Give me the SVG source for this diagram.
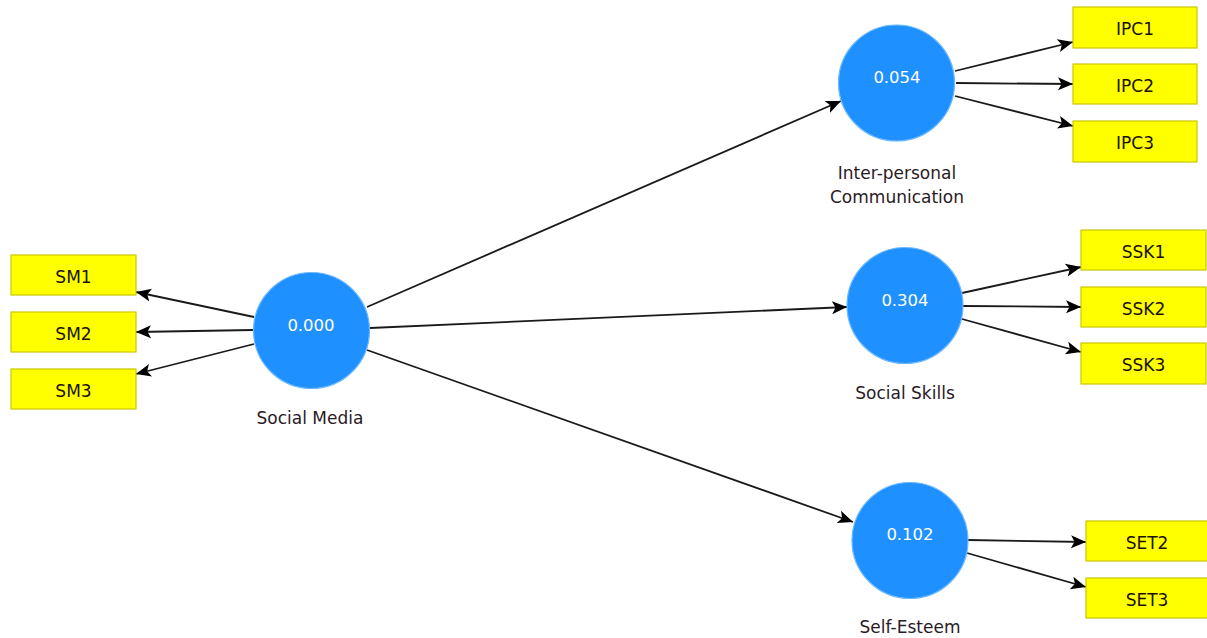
<svg xmlns="http://www.w3.org/2000/svg" width="1207" height="638" viewBox="0 0 1207 638">
  <defs>
    <marker id="arrow" markerUnits="userSpaceOnUse" markerWidth="16" markerHeight="16" viewBox="0 0 16 16" refX="15" refY="8" orient="auto">
      <path d="M0,1.5 L15,8 L0,14.5 L3.5,8 Z" fill="#000"/>
    </marker>
  </defs>
  <style>
    .lv { fill: #1e90ff; stroke: #6cb8ff; stroke-width: 1.2; }
    .lv-val { font-family: "DejaVu Sans", Verdana, sans-serif; font-size: 16.5px; fill: #ffffff; text-anchor: middle; }
    .lv-name { font-family: "DejaVu Sans", Verdana, sans-serif; font-size: 17px; fill: #2a1a26; text-anchor: middle; }
    .ind { fill: #ffff00; stroke: #c9c900; stroke-width: 1.2; }
    .ind-txt { font-family: "DejaVu Sans", Verdana, sans-serif; font-size: 17px; fill: #1a1200; text-anchor: middle; }
    .path { stroke: #1a1a1a; stroke-width: 1.8; fill: none; marker-end: url(#arrow); }
  </style>
  <rect width="1207" height="638" fill="#ffffff"/>

  <!-- connectors -->
  <g id="connectors">
    <!-- structural paths -->
    <line class="path" x1="367" y1="307" x2="841" y2="101"/>
    <line class="path" x1="370" y1="328" x2="847" y2="307"/>
    <line class="path" x1="367" y1="350" x2="853" y2="522"/>
    <!-- Social Media indicators -->
    <line class="path" x1="254" y1="317" x2="136" y2="292"/>
    <line class="path" x1="253" y1="330" x2="136" y2="332"/>
    <line class="path" x1="254" y1="344" x2="136" y2="374"/>
    <!-- Inter-personal Communication indicators -->
    <line class="path" x1="955" y1="71" x2="1073" y2="42"/>
    <line class="path" x1="956" y1="83" x2="1073" y2="84"/>
    <line class="path" x1="955" y1="96" x2="1073" y2="126"/>
    <!-- Social Skills indicators -->
    <line class="path" x1="962" y1="293" x2="1081" y2="267"/>
    <line class="path" x1="963" y1="306" x2="1081" y2="307"/>
    <line class="path" x1="962" y1="319" x2="1081" y2="352"/>
    <!-- Self-Esteem indicators -->
    <line class="path" x1="968" y1="540" x2="1086" y2="542"/>
    <line class="path" x1="967" y1="553" x2="1086" y2="587"/>
  </g>

  <!-- latent variables -->
  <g id="social-media">
    <circle class="lv" cx="311.5" cy="330.5" r="58"/>
    <text class="lv-val" x="311" y="331">0.000</text>
    <text class="lv-name" x="310" y="424">Social Media</text>
  </g>
  <g id="interpersonal-communication">
    <circle class="lv" cx="896.5" cy="83" r="58"/>
    <text class="lv-val" x="897" y="83">0.054</text>
    <text class="lv-name" x="897" y="179">Inter-personal</text>
    <text class="lv-name" x="897" y="203">Communication</text>
  </g>
  <g id="social-skills">
    <circle class="lv" cx="905" cy="305.5" r="58"/>
    <text class="lv-val" x="905" y="306">0.304</text>
    <text class="lv-name" x="905" y="399">Social Skills</text>
  </g>
  <g id="self-esteem">
    <circle class="lv" cx="910" cy="540.5" r="58"/>
    <text class="lv-val" x="910" y="540">0.102</text>
    <text class="lv-name" x="910" y="633">Self-Esteem</text>
  </g>

  <!-- indicators -->
  <g id="SM1"><rect class="ind" x="11" y="255" width="125" height="40"/><text class="ind-txt" x="73.5" y="282.5">SM1</text></g>
  <g id="SM2"><rect class="ind" x="11" y="312" width="125" height="40"/><text class="ind-txt" x="73.5" y="339.5">SM2</text></g>
  <g id="SM3"><rect class="ind" x="11" y="369" width="125" height="40"/><text class="ind-txt" x="73.5" y="396.5">SM3</text></g>

  <g id="IPC1"><rect class="ind" x="1073" y="7" width="124" height="41"/><text class="ind-txt" x="1135" y="34.5">IPC1</text></g>
  <g id="IPC2"><rect class="ind" x="1073" y="64" width="124" height="40"/><text class="ind-txt" x="1135" y="91.5">IPC2</text></g>
  <g id="IPC3"><rect class="ind" x="1073" y="121" width="124" height="41"/><text class="ind-txt" x="1135" y="148.5">IPC3</text></g>

  <g id="SSK1"><rect class="ind" x="1081" y="230" width="125" height="40"/><text class="ind-txt" x="1143.5" y="257.5">SSK1</text></g>
  <g id="SSK2"><rect class="ind" x="1081" y="287" width="125" height="40"/><text class="ind-txt" x="1143.5" y="314.5">SSK2</text></g>
  <g id="SSK3"><rect class="ind" x="1081" y="343" width="125" height="41"/><text class="ind-txt" x="1143.5" y="370.5">SSK3</text></g>

  <g id="SET2"><rect class="ind" x="1086" y="521" width="125" height="40"/><text class="ind-txt" x="1147" y="548.5">SET2</text></g>
  <g id="SET3"><rect class="ind" x="1086" y="578" width="125" height="40"/><text class="ind-txt" x="1147" y="605.5">SET3</text></g>
</svg>
